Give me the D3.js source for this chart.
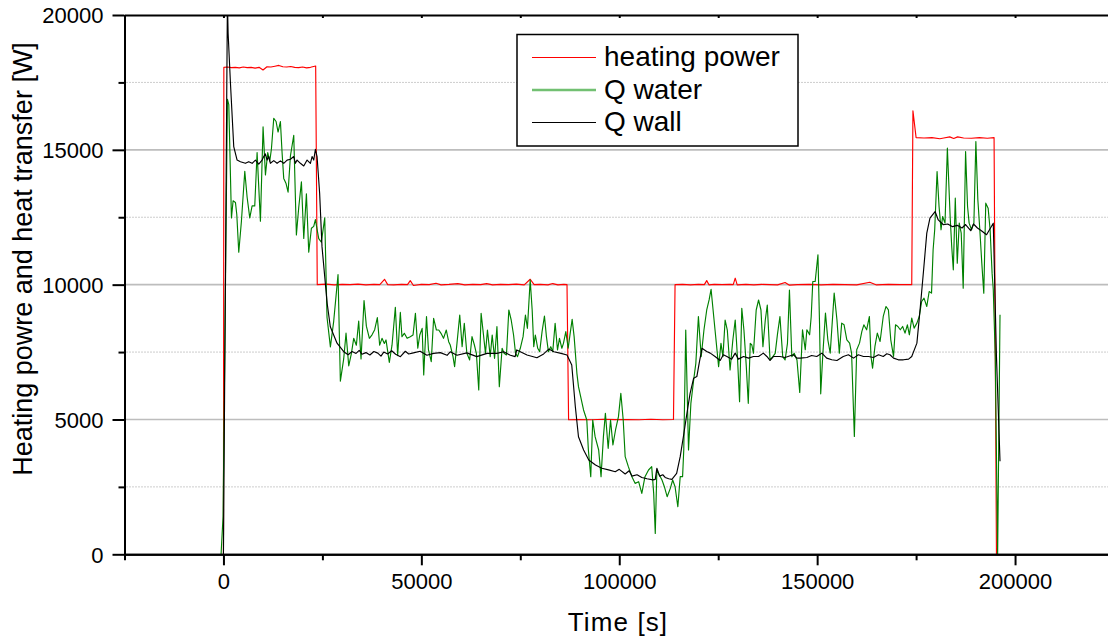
<!DOCTYPE html>
<html>
<head>
<meta charset="utf-8">
<script src="https://cdn.jsdelivr.net/npm/d3@7/dist/d3.min.js"></script>
<style>
  html, body { margin: 0; padding: 0; background: #fff; }
  svg { display: block; font-family: "Liberation Sans", Arial, sans-serif; }
</style>
</head>
<body>
<svg id="chart" width="1108" height="641"></svg>
<script>
// Axis ticks
const xMajor = [0, 50000, 100000, 150000, 200000];
const xMinor = [-25000, 25000, 75000, 125000, 175000, 225000];
const yMajor = [0, 5000, 10000, 15000, 20000];
const yMinor = [2500, 7500, 12500, 17500];

const seriesNames = ["heating power", "Q water", "Q wall"];
const seriesColors = ["#ff0000", "#008000", "#000000"];

// Heating power [t (s), W]
const heatingPower = [
  [0,0],[100,18060],[1000,18070],[2000,18050],[3000,18060],[4000,18040],[5000,18070],[6000,18050],
  [7000,18060],[8000,18030],[9000,18060],[10000,17960],[11000,18080],[12000,18070],[13000,18100],
  [14000,18130],[15000,18080],[16000,18070],[17000,18090],[18000,18060],[19000,18050],[20000,18070],
  [21000,18040],[22000,18060],[23300,18110],[23700,10000],[26000,10020],[28000,9990],[30000,10010],
  [32000,10000],[34000,10020],[36000,9990],[38000,10010],[39500,10000],[40700,10200],[41500,10000],
  [43000,9990],[45000,10010],[46500,10000],[47200,10150],[48000,9970],[50000,10010],[52000,10000],
  [53700,10050],[55000,9990],[57000,10010],[59200,10040],[61000,9990],[63000,10010],[65000,10000],
  [66500,10040],[68000,9990],[70000,10010],[72000,10000],[74000,10020],[76000,9990],[77500,10200],
  [78500,10000],[80000,10010],[82000,9990],[83200,10040],[84500,9990],[86000,10010],[86800,10000],
  [87200,4990],[90000,5000],[93000,4990],[96000,5010],[99000,4995],[102000,5000],[105000,4990],
  [108000,5010],[111000,4990],[113700,5000],[114100,10000],[116000,10010],[118000,9990],[120000,10010],
  [121500,10000],[122100,10150],[122700,9990],[124000,10010],[126000,10000],[128000,10010],[128800,10000],
  [129300,10240],[129800,9990],[132000,10010],[134000,9990],[136000,10010],[138000,10000],[140000,9990],
  [141900,10080],[143000,9980],[145000,10000],[148000,10010],[151000,9990],[154000,10010],[157000,10000],
  [160000,9990],[163300,10090],[165000,9990],[168000,10010],[171000,10000],[173900,10000],[174200,16450],
  [175000,15450],[177000,15440],[179000,15450],[181000,15410],[182000,15440],[183500,15480],[184500,15420],
  [185500,15480],[187000,15440],[189000,15430],[191000,15450],[193000,15430],[194700,15450],[195300,0]
];

// Heat transferred to the water [t (s), W]
const qWater = [
  [-600,0],[-100,1400],[1000,16875],[1350,16680],[2020,12475],[2440,13110],[3030,13050],[3370,12600],
  [3870,11200],[4540,12350],[5390,14200],[5980,13240],[6650,12475],[7240,12920],[7910,12920],[8500,14900],
  [9340,12350],[10010,15850],[10610,14070],[11190,14900],[11700,14580],[12120,15030],[12710,16170],
  [13300,16050],[13800,15660],[14390,16050],[14810,14900],[15230,13940],[15820,13750],[16330,13430],
  [16920,14770],[17760,15540],[18430,11840],[19020,12860],[19700,13810],[20290,11710],[20960,13370],
  [21550,11200],[22220,12090],[22810,12160],[23230,12410],[24070,11710],[24740,11580],[25590,12475],
  [26170,8780],[27020,7690],[27860,8650],[28950,10370],[29540,6420],[30380,7245],[30970,8200],[31650,6990],
  [32320,7440],[32910,8010],[33580,7755],[34170,8650],[34760,7245],[35520,9410],[36110,8460],[36870,8010],
  [37540,8140],[38210,8330],[38880,8780],[39470,7755],[40060,8010],[40650,7820],[41070,7950],[41910,7120],
  [42590,7755],[43430,9160],[44020,7370],[44690,8970],[45100,8071],[45700,8195],[46400,8010],[47200,8071],
  [47900,8133],[48500,8937],[49100,7640],[49600,8133],[50200,8380],[50600,6650],[51300,8813],[51800,7577],
  [52500,7145],[53100,8751],[53800,8318],[54400,8318],[54960,8195],[55600,8010],[56300,8318],[56900,7886],
  [57300,7762],[58000,7330],[58400,6959],[59000,7824],[59700,8875],[60300,7700],[60850,8566],[61500,7453],
  [62200,7206],[62800,8071],[63400,7762],[63900,7453],[64500,6093],[65100,8937],[65700,8133],[66200,7453],
  [66700,8318],[67400,7330],[67900,8133],[68500,7268],[69100,8442],[69700,6217],[70400,7640],[70900,7453],
  [71500,7391],[72100,9060],[72700,8689],[73300,8133],[73800,7453],[74300,7330],[75000,7640],[75700,8071],
  [76300,8875],[76800,8380],[77500,10173],[78000,9060],[78400,7700],[78800,8133],[79400,7640],[79900,7515],
  [80500,8257],[81100,8838],[81600,8071],[82100,7515],[82700,7700],[83200,7515],[83800,8566],[84400,7577],
  [84900,8010],[85500,7640],[85900,7824],[86500,8257],[87100,7640],[87600,8195],[88100,8714],[88600,8071],
  [89300,6712],[89700,6217],[90980,5352],[91800,4981],[92200,3868],[92800,2878],[93300,4981],[93900,4363],
  [94800,3868],[95400,2878],[96000,4363],[96500,5229],[97200,3930],[97800,4981],[98400,4054],[99060,4610],
  [99800,5105],[100400,5970],[101000,4981],[101500,3621],[102300,3250],[103200,2878],[104000,2631],
  [104900,2693],[105700,2260],[106500,2878],[107400,3126],[108200,3250],[108700,2260],[109100,776],
  [109500,3126],[109900,3002],[110800,2755],[111400,2507],[112100,2136],[112900,2445],[113500,2755],
  [114100,2507],[114800,1765],[115400,2878],[116000,2878],[116300,3868],[116800,8319],[117500,3868],
  [118100,5599],[118800,6465],[119350,7083],[120000,8814],[120700,7330],[121400,8319],[122100,9061],
  [122700,9432],[123200,9828],[124200,8318],[125100,6959],[125700,7824],[126200,7330],[126750,8689],
  [127300,8318],[128000,6835],[128700,7948],[129300,8689],[129900,7206],[130400,5660],[130960,9122],
  [131500,8318],[132100,6959],[132600,5599],[133100,7824],[133500,7762],[133900,7453],[134600,9060],
  [135200,9431],[135800,9060],[136300,7700],[136900,8689],[137400,9245],[138100,7206],[138800,7330],
  [139400,7453],[140000,8195],[140600,8813],[141300,7330],[141900,7206],[142500,7824],[143000,9802],
  [143600,7330],[144200,7453],[144900,7206],[145600,6000],[146300,8326],[147000,7584],[147400,8326],
  [148100,8140],[148500,8820],[148900,10118],[149500,10118],[150200,11107],[150600,8573],[150900,5952],
  [151400,7337],[152100,8944],[152700,7955],[153300,7460],[153800,8573],[154300,9685],[155000,8696],
  [155600,7460],[156200,8573],[156800,8511],[157500,7955],[158200,7831],[158700,7460],[159400,4370],
  [160000,7584],[160700,7831],[161300,8264],[161800,8511],[162500,8326],[163200,8820],[163600,7337],
  [164000,6904],[164600,7708],[165200,8202],[165900,7893],[166700,8820],[167400,9191],[168000,9067],
  [168600,7955],[169300,7337],[169800,8511],[170400,8449],[171000,8326],[171600,8449],[172200,8202],
  [172800,8511],[173300,8140],[173900,8758],[174500,8387],[175200,8573],[175800,8820],[176400,9376],
  [177000,9500],[177700,9191],[178300,9747],[178900,9685],[179300,11292],[179700,12034],[180300,14197],
  [180800,12899],[181300,12034],[181700,12528],[182300,12281],[182900,15062],[183600,12528],[184000,11416],
  [184400,10550],[184900,13208],[185400,10798],[185900,12281],[186400,11910],[186900,9871],[187500,14938],
  [188000,12899],[188400,12281],[189000,12034],[189600,12281],[190100,15309],[190600,13146],[191100,12034],
  [191600,10798],[192100,9685],[192600,13022],[193200,12837],[193700,12034],[194200,10427],[194500,9809],
  [195000,7337],[195600,0],[196200,8882]
];

// Heat transferred through the wall [t (s), W]
const qWall = [
  [0,0],[1000,20500],[1180,19320],[1770,17470],[2600,15120],[3450,14620],[4290,14560],[5550,14500],
  [6390,14560],[7240,14500],[8080,14620],[8920,14470],[9760,14620],[10180,14750],[10600,14850],
  [11020,14620],[11440,14750],[11860,14500],[12710,14600],[13550,14500],[14390,14590],[15230,14500],
  [16080,14620],[16920,14650],[17760,14750],[18180,14500],[18600,14620],[19440,14500],[20290,14400],
  [21130,14620],[21970,14500],[22390,14750],[22810,14620],[23230,15020],[23650,14750],[24300,13400],
  [24900,11410],[26200,9310],[27000,8440],[28700,7830],[30400,7515],[31500,7400],[32500,7520],[33500,7450],
  [34300,7560],[35000,7420],[36000,7480],[37000,7390],[38000,7520],[39000,7460],[39800,7350],[40500,7500],
  [41500,7430],[42500,7550],[43500,7420],[44700,7330],[45950,7530],[46800,7430],[48000,7470],[49700,7530],
  [51400,7380],[53100,7450],[54800,7480],[56500,7380],[57300,7510],[59000,7380],[61500,7470],[64000,7330],
  [66600,7450],[69100,7450],[70800,7510],[72500,7380],[73700,7330],[74100,7580],[76700,7390],[79200,7290],
  [80900,7430],[82200,7610],[83500,7510],[85300,7450],[86800,7390],[88000,7020],[88900,5480],[89700,4360],
  [91000,3870],[92300,3500],[94000,3310],[95600,3190],[97300,3130],[99000,3060],[100000,3150],[101500,2980],
  [102500,3100],[103200,2900],[104500,2950],[105700,2850],[107000,2800],[108500,2760],[109100,2780],
  [109500,3190],[110200,2900],[111000,2950],[111600,2850],[112500,2800],[113300,2780],[114500,3000],
  [115400,3620],[116200,4360],[117100,5230],[117900,5970],[118800,6530],[119600,6590],[120200,7090],
  [120900,7640],[122100,7520],[123000,7460],[124200,7337],[125500,7188],[126300,7399],[127200,7337],
  [128400,7238],[129300,7460],[130100,7238],[131400,7337],[132700,7275],[133900,7337],[135200,7337],
  [136400,7460],[137300,7337],[138100,7188],[139000,7337],[140600,7337],[141900,7300],[143200,7362],
  [144000,7399],[144900,7275],[145700,7275],[147400,7300],[148600,7374],[149900,7337],[151200,7460],
  [152400,7275],[153700,7213],[155000,7188],[156600,7337],[157900,7399],[159200,7275],[160400,7399],
  [161700,7337],[163000,7337],[164200,7300],[165500,7399],[166700,7337],[167600,7436],[168400,7399],
  [169300,7275],[170500,7213],[171800,7213],[173100,7238],[173900,7337],[175200,7830],[176000,9070],
  [176900,10550],[177700,11910],[178500,12470],[179800,12710],[180600,12400],[181900,12220],[183000,12250],
  [184200,12150],[185400,12200],[186600,12100],[187500,12230],[188800,12000],[189500,12250],[190500,12100],
  [191500,12000],[192800,11850],[194500,12280],[195300,7340],[196200,3450]
];

const svg = d3.select("#chart");
const plotLeft = 124.5, plotRight = 1114, plotTop = 15, plotBottom = 554.3;

const x = d3.scaleLinear().domain([-25000, 225000]).range([plotLeft, plotRight]);
const y = d3.scaleLinear().domain([0, 20000]).range([plotBottom, plotTop]);

// Grid lines
const grid = svg.append("g");
grid.selectAll("line.major").data(yMajor.filter(v => v > 0 && v < 20000)).enter()
  .append("line").attr("class", "major")
  .attr("x1", plotLeft).attr("x2", plotRight)
  .attr("y1", d => y(d)).attr("y2", d => y(d))
  .attr("stroke", "#bdbdbd").attr("stroke-width", 1.6);
grid.selectAll("line.minor").data(yMinor).enter()
  .append("line").attr("class", "minor")
  .attr("x1", plotLeft + 2).attr("x2", plotRight)
  .attr("y1", d => y(d)).attr("y2", d => y(d))
  .attr("stroke", "#9a9a9a").attr("stroke-width", 1).attr("stroke-dasharray", "1,2");

// Data lines, clipped to the plot frame
svg.append("clipPath").attr("id", "plotClip")
  .append("rect").attr("x", plotLeft).attr("y", plotTop)
  .attr("width", plotRight - plotLeft).attr("height", plotBottom - plotTop);

const line = d3.line().x(d => x(d[0])).y(d => y(d[1]));
const plot = svg.append("g").attr("clip-path", "url(#plotClip)");
[heatingPower, qWater, qWall].forEach((s, i) => {
  plot.append("path").datum(s)
    .attr("d", line)
    .attr("fill", "none")
    .attr("stroke", seriesColors[i])
    .attr("stroke-width", 1.15)
    .attr("stroke-linejoin", "round");
});

// Axes
function styleAxis(g, width) {
  g.select(".domain").attr("stroke", "#000").attr("stroke-width", width);
  g.selectAll(".tick line").attr("stroke", "#000").attr("stroke-width", 2);
  g.selectAll(".tick text").attr("fill", "#000")
    .style("font-family", "'Liberation Sans', Arial, sans-serif").style("font-size", "22px");
}

const xAxisMajor = svg.append("g").attr("transform", `translate(0,${plotBottom})`)
  .call(d3.axisBottom(x).tickValues(xMajor).tickSize(11).tickSizeOuter(0).tickFormat(d3.format("d")));
styleAxis(xAxisMajor, 2);
xAxisMajor.selectAll(".tick text").attr("y", 35).attr("dy", null);

const xAxisMinor = svg.append("g").attr("transform", `translate(0,${plotBottom})`)
  .call(d3.axisBottom(x).tickValues(xMinor).tickSize(6).tickSizeOuter(0).tickFormat(""));
styleAxis(xAxisMinor, 2);

const xAxisTop = svg.append("g").attr("transform", `translate(0,${plotTop})`)
  .call(d3.axisTop(x).tickValues(xMajor.concat(xMinor)).tickSize(-3).tickSizeOuter(0).tickFormat(""));
styleAxis(xAxisTop, 2);

const yAxisMajor = svg.append("g").attr("transform", `translate(${plotLeft},0)`)
  .call(d3.axisLeft(y).tickValues(yMajor).tickSize(12).tickSizeOuter(0).tickPadding(9).tickFormat(d3.format("d")));
styleAxis(yAxisMajor, 2);
yAxisMajor.selectAll(".tick text").attr("dy", "0.36em");

const yAxisMinor = svg.append("g").attr("transform", `translate(${plotLeft},0)`)
  .call(d3.axisLeft(y).tickValues(yMinor).tickSize(6).tickSizeOuter(0).tickFormat(""));
styleAxis(yAxisMinor, 2);

// Axis titles
svg.append("text")
  .attr("x", 618).attr("y", 631)
  .attr("text-anchor", "middle")
  .style("font-size", "26px").style("letter-spacing", "1.1px")
  .text("Time [s]");

svg.append("text")
  .attr("transform", "translate(31.5,259) rotate(-90)")
  .attr("text-anchor", "middle")
  .style("font-size", "27px")
  .text("Heating powre and heat transfer [W]");

// Legend
const legend = svg.append("g");
legend.append("rect")
  .attr("x", 517).attr("y", 34.5).attr("width", 281).attr("height", 111.5)
  .attr("fill", "#fff").attr("stroke", "#000").attr("stroke-width", 1.5);
const legendRows = [57.5, 90, 122.5];
const legendText = [66, 99, 131];
seriesNames.forEach((name, i) => {
  legend.append("line")
    .attr("x1", 532).attr("x2", 596)
    .attr("y1", legendRows[i]).attr("y2", legendRows[i])
    .attr("stroke", i === 1 ? "#72c072" : seriesColors[i])
    .attr("stroke-width", i === 1 ? 2.3 : 1);
  legend.append("text")
    .attr("x", 604).attr("y", legendText[i])
    .style("font-size", "28px")
    .text(name);
});
</script>
</body>
</html>
